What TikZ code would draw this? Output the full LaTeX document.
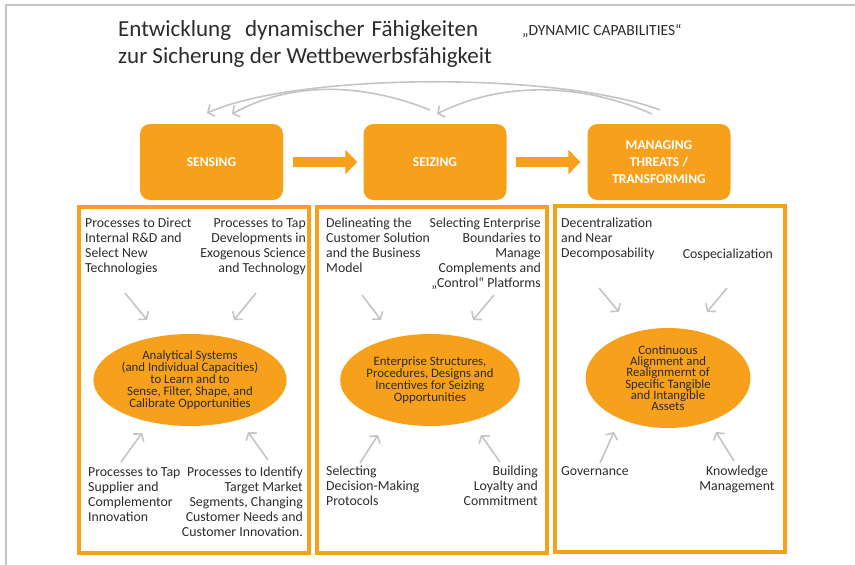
\documentclass[tikz,border=0pt]{standalone}
\usepackage{fontspec}
\setmainfont{Carlito}
\usetikzlibrary{arrows.meta,shapes.geometric}
\definecolor{org}{HTML}{F6A01C}
\definecolor{arrgray}{HTML}{C4C4C4}
\definecolor{txt}{HTML}{2B2B2B}
\begin{document}
\begin{tikzpicture}[x=1pt,y=-1pt,
  topbox/.style={fill=org, rounded corners=10pt, minimum width=143pt, minimum height=76pt,
    text=white, font=\bfseries\fontsize{13.5}{17}\selectfont, align=center, inner sep=0pt},
  panel/.style={draw=org, line width=3.5pt, minimum width=230pt, minimum height=346pt, inner sep=0pt},
  ell/.style={ellipse, fill=org, minimum width=165pt, minimum height=92pt, inner sep=0pt,
    text=txt, align=center, font=\fontsize{12.8}{11.8}\selectfont},
  lbl/.style={text=txt, font=\fontsize{13.8}{15}\selectfont, inner sep=0pt},
  lbll/.style={lbl, align=left, anchor=north west},
  lblr/.style={lbl, align=right, anchor=north east},
  garrow/.style={draw=arrgray, line width=1.6pt, -{Straight Barb[length=5pt,width=13pt]}},
  bigarrow/.style={draw=org, line width=10pt, -{Triangle[length=12pt,width=24pt]}}
]
\useasboundingbox (0,0) rectangle (855,565);
\draw[arrgray, line width=1.5pt] (6,565) -- (6,5) -- (855,5);

% title
\node[anchor=base west, inner sep=0pt, text=txt, font=\fontsize{23}{26}\selectfont] (t1) at (118,36)
  {\makebox[360pt][s]{Entwicklung\ \ dynamischer Fähigkeiten}};
\node[anchor=base west, inner sep=0pt, text=txt, font=\fontsize{15.5}{18}\selectfont] (t2) at (522,35)
  {„DYNAMIC CAPABILITIES“};
\node[anchor=base west, inner sep=0pt, text=txt, font=\fontsize{23}{26}\selectfont] (t3) at (118,63)
  {zur Sicherung der Wettbewerbsfähigkeit};

% top boxes
\node[topbox] (sensing) at (211.5,162) {SENSING};
\node[topbox] (seizing) at (435,162) {SEIZING};
\node[topbox] (managing) at (659,162) {MANAGING\\THREATS /\\TRANSFORMING};
\draw[bigarrow, shorten <=10pt, shorten >=6pt] (sensing) -- (seizing);
\draw[bigarrow, shorten <=9pt, shorten >=7pt] (seizing) -- (managing);

% feedback arcs
\coordinate (fbR1) at (660,110);
\coordinate (fbL1) at (207,113);
\coordinate (fbR2) at (652,114);
\coordinate (fbM2) at (437,114);
\coordinate (fbM1) at (430,110);
\coordinate (fbL2) at (232,114);
\draw[garrow] (fbR1) .. controls (560,72) and (300,72) .. (fbL1);
\draw[garrow] (fbR2) .. controls (580,82) and (500,82) .. (fbM2);
\draw[garrow] (fbM1) .. controls (360,82) and (290,82) .. (fbL2);

% panels
\node[panel] (p1) at (194,380) {};
\node[panel] (p2) at (432,380) {};
\node[panel] (p3) at (670,379) {};

% ellipses
\node[ell] (e1) at (190,380) {Analytical Systems\\(and Individual Capacities)\\to Learn and to\\Sense, Filter, Shape, and\\Calibrate Opportunities};
\node[ell] (e2) at (430,380) {Enterprise Structures,\\Procedures, Designs and\\Incentives for Seizing\\Opportunities};
\node[ell, minimum height=100pt, font=\fontsize{12.8}{11.3}\selectfont] (e3) at (668,378) {Continuous\\Alignment and\\Realignmernt of\\Specific Tangible\\and Intangible\\Assets};

% panel 1 texts
\node[lbll] (s1) at (85,218) {Processes to Direct\\Internal R\&D and\\Select New\\Technologies};
\node[lblr] (s2) at (306,218) {Processes to Tap\\Developments in\\Exogenous Science\\and Technology};
\node[lbll] (s3) at (88,467) {Processes to Tap\\Supplier and\\Complementor\\Innovation};
\node[lblr] (s4) at (303,467) {Processes to Identify\\Target Market\\Segments, Changing\\Customer Needs and\\Customer Innovation.};

% panel 2 texts
\node[lbll] (z1) at (326,218) {Delineating the\\Customer Solution\\and the Business\\Model};
\node[lblr] (z2) at (541,218) {Selecting Enterprise\\Boundaries to\\Manage\\Complements and\\„Control“ Platforms};
\node[lbll] (z3) at (326,466) {Selecting\\Decision-Making\\Protocols};
\node[lblr] (z4) at (538,466) {Building\\Loyalty and\\Commitment};

% panel 3 texts
\node[lbll] (m1) at (561,218) {Decentralization\\and Near\\Decomposability};
\node[lblr] (m2) at (773,249) {Cospecialization};
\node[lbll] (m3) at (561,466) {Governance};
\node[lbl, align=center, anchor=north] (m4) at (737,466) {Knowledge\\Management};

% small arrows
\coordinate (a1s) at (125,293); \coordinate (a1e) at (147,320);
\coordinate (a2s) at (256,293); \coordinate (a2e) at (234,320);
\coordinate (a3s) at (121,462); \coordinate (a3e) at (142,433);
\coordinate (a4s) at (268,460); \coordinate (a4e) at (248,432);
\coordinate (b1s) at (362,295); \coordinate (b1e) at (381,320);
\coordinate (b2s) at (494,295); \coordinate (b2e) at (473,320);
\coordinate (b3s) at (360,463); \coordinate (b3e) at (378,435);
\coordinate (b4s) at (500,462); \coordinate (b4e) at (481,435);
\coordinate (c1s) at (599,288); \coordinate (c1e) at (619,312);
\coordinate (c2s) at (727,288); \coordinate (c2e) at (707,312);
\coordinate (c3s) at (600,463); \coordinate (c3e) at (614,432);
\coordinate (c4s) at (734,461); \coordinate (c4e) at (716,432);
\foreach \p in {a1,a2,a3,a4,b1,b2,b3,b4,c1,c2,c3,c4}
  \draw[garrow] (\p s) -- (\p e);
\end{tikzpicture}
\end{document}
